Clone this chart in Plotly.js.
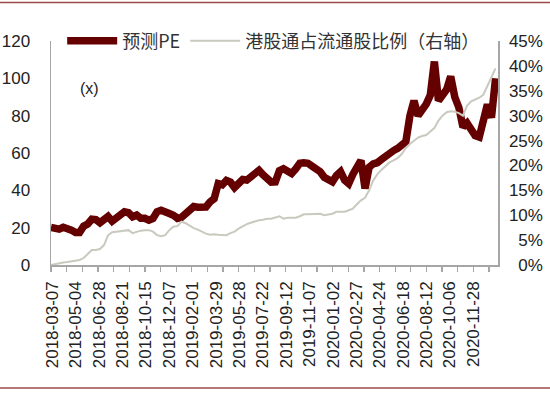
<!DOCTYPE html>
<html><head><meta charset="utf-8">
<script src="https://cdn.plot.ly/plotly-3.0.1.min.js"></script>
<style>html,body{margin:0;padding:0;background:#fff;} #chart{width:550px;height:393px;}</style>
</head><body><div id="chart"></div>
<script>
// date tick labels (trading-day category axis)
const dateLabels = ["2018-03-07","2018-05-04","2018-06-28","2018-08-21","2018-10-15","2018-12-07",
  "2019-02-01","2019-03-29","2019-05-28","2019-07-22","2019-09-12","2019-11-07",
  "2020-01-02","2020-02-27","2020-04-24","2020-06-18","2020-08-12","2020-10-06","2020-11-28"];

// 预测PE (left axis, x), sampled roughly weekly
const peValues = [20.1,19.8,19.2,20.2,19.8,18.7,17.4,17.4,20.8,22.0,
 24.5,24.3,22.6,25.0,26.0,23.5,24.9,26.5,28.5,28.0,
 25.8,26.7,25.0,25.0,24.0,24.9,28.5,29.3,28.8,27.6,
 26.7,25.0,25.5,27.2,29.0,31.3,31.0,30.8,31.1,33.8,
 35.5,43.6,43.0,45.3,44.4,41.5,43.5,45.8,45.5,47.5,
 49.5,50.7,48.3,46.5,44.4,44.5,50.5,51.6,50.7,49.0,
 51.5,54.5,54.8,54.5,53.0,51.6,50.0,47.0,45.5,44.6,
 48.0,50.0,45.5,43.6,48.5,53.5,56.0,41.0,52.4,54.2,
 54.8,56.5,58.5,60.4,61.3,62.5,64.5,66.0,80.0,88.0,
 80.0,82.5,86.2,91.0,109.0,88.0,91.0,94.0,101.0,90.0,
 84.4,74.0,76.0,72.0,69.3,68.5,76.0,86.0,79.0,100.0];

// 港股通占流通股比例 (right axis, %)
const hkRatio = [0,0.2,0.3,0.5,0.6,0.7,0.9,1.0,1.4,2.2,
 3.0,3.0,3.2,4.0,6.0,6.6,6.7,6.7,6.8,7.0,
 6.4,6.7,6.9,7.0,7.0,6.7,6.0,5.8,6.0,7.0,
 7.7,7.8,8.7,8.4,7.9,7.4,7.1,6.7,6.3,6.1,
 6.2,6.1,6.0,6.0,6.4,6.7,7.3,7.8,8.2,8.5,
 8.8,9.0,9.1,9.3,9.3,9.5,9.8,9.3,9.5,9.5,
 9.5,9.8,10.2,10.2,10.2,10.3,10.3,10.0,10.1,10.3,
 10.7,10.7,10.7,11.0,11.3,12.2,13.0,13.5,15.0,17.0,
 18.2,19.1,19.9,20.6,21.0,21.5,22.3,23.5,24.3,25.0,
 25.6,25.9,26.1,26.8,27.5,29.0,30.0,30.7,30.9,30.8,
 30.5,30.0,32.0,32.9,33.2,33.6,34.2,36.0,37.5,39.5];

const leftTicks = [0,20,40,60,80,100,120];
const rightTicks = [0,5,10,15,20,25,30,35,40,45];
const rightTickText = ["\u20070%","\u20075%","10%","15%","20%","25%","30%","35%","40%","45%"];

const samplesPerTick = 3.836;
const samplesPerLabel = 5.735;
const labelOffset = 0.32;
const xEnd = 109.6;

const xs = peValues.map((_, i) => i);
const labelPos = dateLabels.map((_, j) => labelOffset + j * samplesPerLabel);

const axisColor = '#a6a6a6';

const traces = [
  {x: xs, y: peValues, type: 'scatter', mode: 'lines', name: '预测PE',
   line: {color: '#650000', width: 7.5}, yaxis: 'y'},
  {x: xs, y: hkRatio, type: 'scatter', mode: 'lines', name: '港股通占流通股比例（右轴）',
   line: {color: '#c9c9bf', width: 2}, yaxis: 'y2'}
];

const layout = {
  width: 550, height: 393,
  margin: {l: 51, r: 52, t: 41, b: 128, pad: 0},
  paper_bgcolor: '#fff', plot_bgcolor: '#fff',
  font: {family: 'Liberation Sans, Arial, sans-serif', size: 17, color: '#222'},
  showlegend: true,
  legend: {orientation: 'h', x: 0.025, y: 1, xanchor: 'left', yanchor: 'middle',
    bgcolor: 'rgba(0,0,0,0)', font: {family: 'Noto Sans CJK SC, sans-serif', size: 18, color: '#333'},
    itemwidth: 50, traceorder: 'normal'},
  xaxis: {range: [0, xEnd], tickmode: 'array', tickvals: labelPos, ticktext: dateLabels,
    tickangle: -90, ticks: '', showline: true, linecolor: axisColor, linewidth: 1.5,
    showgrid: false, zeroline: false, ticklabelstandoff: 8, tickfont: {size: 17},
    minor: {tickmode: 'linear', tick0: 0, dtick: samplesPerTick, ticks: 'outside', ticklen: 5,
      tickcolor: axisColor, tickwidth: 1.3, showgrid: false}},
  yaxis: {range: [0, 120], tickmode: 'array', tickvals: leftTicks, ticks: '',
    showline: true, linecolor: axisColor, linewidth: 1.5, showgrid: false, zeroline: false,
    ticklabelstandoff: 16},
  yaxis2: {range: [0, 45], overlaying: 'y', side: 'right', tickmode: 'array',
    tickvals: rightTicks, ticktext: rightTickText, ticks: '', showline: true,
    linecolor: axisColor, linewidth: 1.5, showgrid: false, zeroline: false, ticklabelstandoff: 6},
  annotations: [{text: '(x)', xref: 'paper', yref: 'paper', x: 0.06, y: 0.835,
    showarrow: false, font: {size: 16, color: '#222'}}],
  shapes: [
    {type: 'line', xref: 'paper', yref: 'paper', x0: -0.2, x1: 1.2, y0: 1.172, y1: 1.172,
     line: {color: '#9e4a4a', width: 1.5}},
    {type: 'line', xref: 'paper', yref: 'paper', x0: -0.2, x1: 1.2, y0: -0.549, y1: -0.549,
     line: {color: '#9e4a4a', width: 1.5}}
  ]
};

Plotly.newPlot('chart', traces, layout, {displayModeBar: false, staticPlot: true});
</script>
</body></html>
